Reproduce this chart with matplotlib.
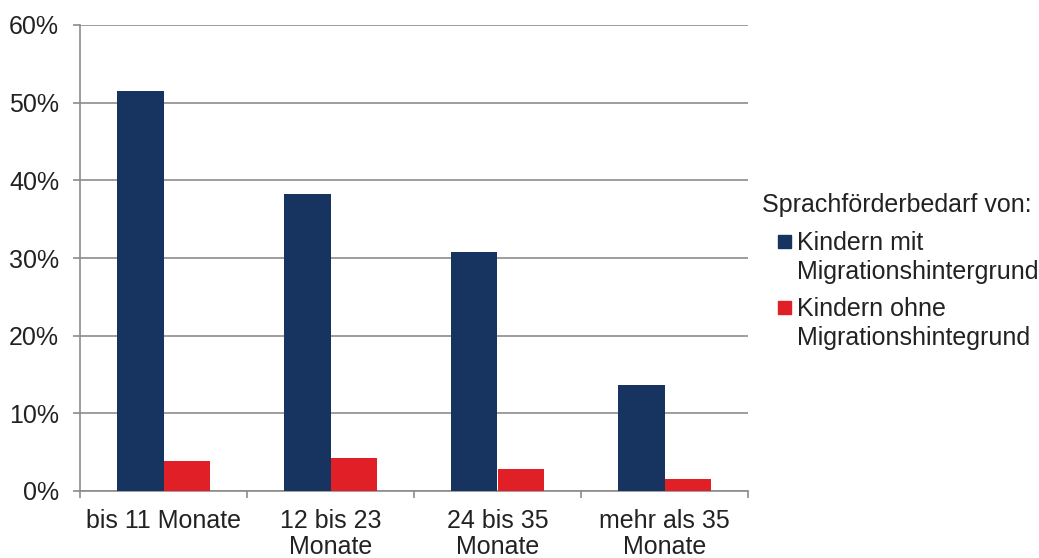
import matplotlib.pyplot as plt
import numpy as np
from matplotlib.patches import Rectangle

plt.rcParams['font.family'] = ['Liberation Sans', 'DejaVu Sans']

categories = ['bis 11 Monate', '12 bis 23\nMonate', '24 bis 35\nMonate', 'mehr als 35\nMonate']
mit_migration = [51.5, 38.2, 30.8, 13.6]
ohne_migration = [3.9, 4.25, 2.8, 1.5]
yticks = [0, 10, 20, 30, 40, 50, 60]
legend_title = 'Sprachförderbedarf von:'
series_labels = [['Kindern mit', 'Migrationshintergrund'],
                 ['Kindern ohne', 'Migrationshintegrund']]

navy = '#17335f'
red = '#e01f26'
grey = '#8c8c8c'
txt = '#222222'
fs = 18
W, H = 1039, 558

fig = plt.figure(figsize=(W / 100, H / 100), dpi=100)
ax = fig.add_axes([80 / W, 1 - 491 / H, 668 / W, 466 / H])

x = np.arange(len(categories))
w = 0.28
ax.bar(x - w / 2, mit_migration, w, color=navy, zorder=3)
ax.bar(x + w / 2, ohne_migration, w, color=red, zorder=3)

ax.set_xlim(-0.5, len(categories) - 0.5)
ax.set_ylim(0, 60)
ax.set_yticks(yticks)
ax.set_yticklabels([f'{v}%' for v in yticks], fontsize=fs, color=txt)
ax.yaxis.grid(True, color=grey, linewidth=1.2, zorder=0)
ax.tick_params(axis='y', length=5, width=1.2, color=grey, pad=10)

ax.set_xticks(x)
ax.set_xticklabels(categories, fontsize=fs, color=txt, linespacing=1.12)
ax.tick_params(axis='x', length=0, pad=13)
ax.set_xticks(np.arange(len(categories) + 1) - 0.5, minor=True)
ax.tick_params(axis='x', which='minor', length=5, width=1.2, color=grey)

for s in ['top', 'right']:
    ax.spines[s].set_visible(False)
for s in ['left', 'bottom']:
    ax.spines[s].set_color(grey)
    ax.spines[s].set_linewidth(1.2)

# legend drawn by hand so the square sits on the first text line
fig.text(762 / W, 1 - 212 / H, legend_title, fontsize=fs, color=txt, va='baseline')
for i, (lines, c) in enumerate(zip(series_labels, [navy, red])):
    top = 235 + i * 66
    fig.patches.append(Rectangle((778 / W, 1 - (top + 13) / H), 13 / W, 13 / H,
                                 transform=fig.transFigure, color=c, figure=fig))
    for j, line in enumerate(lines):
        fig.text(797 / W, 1 - (top + 15 + j * 29) / H, line, fontsize=fs, color=txt,
                 va='baseline')

fig.savefig('out.png', dpi=100)
